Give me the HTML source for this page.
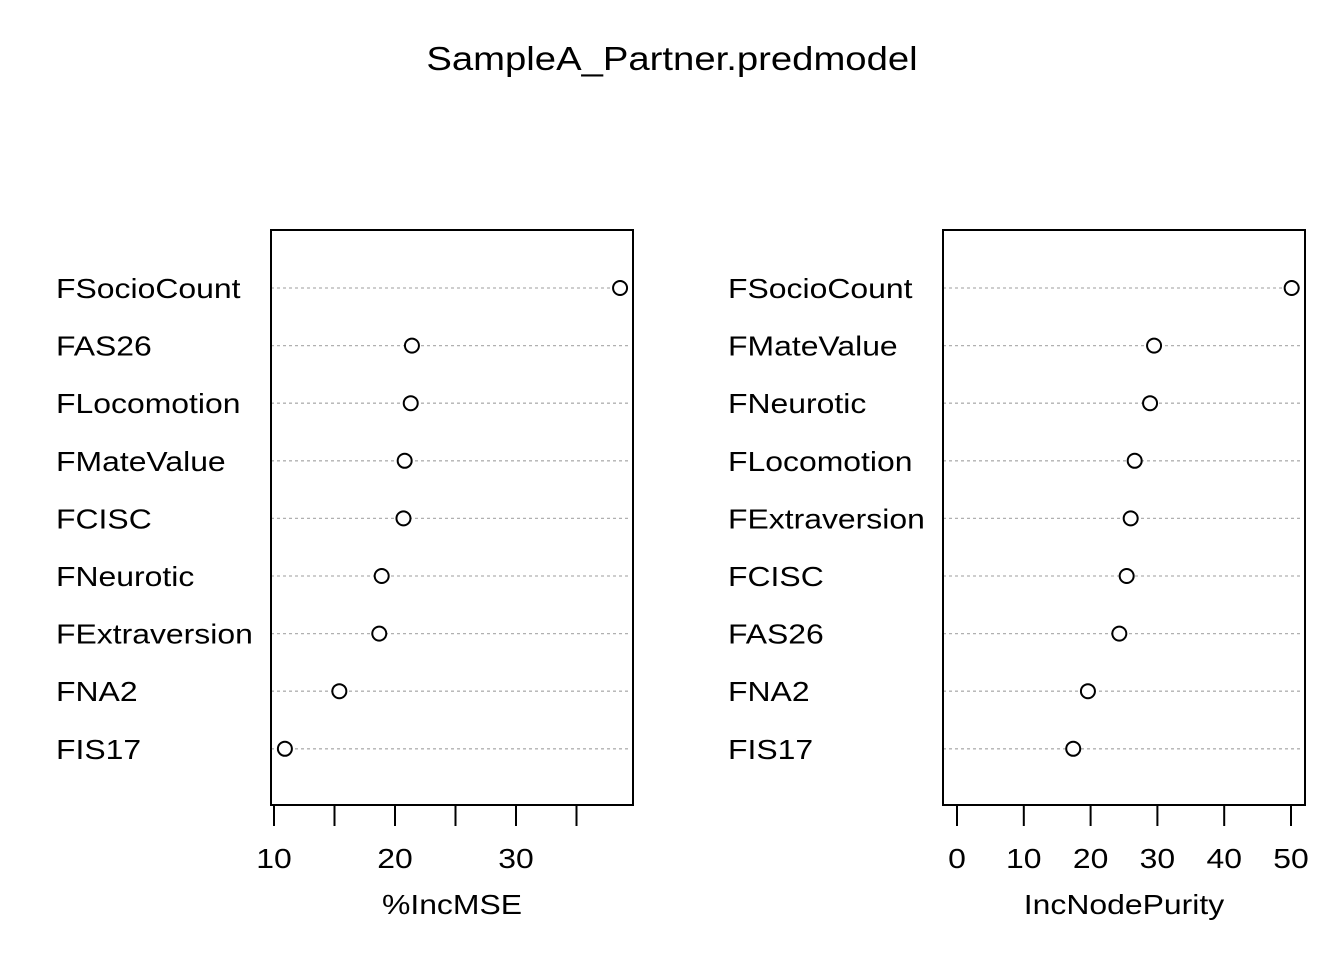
<!DOCTYPE html>
<html><head><meta charset="utf-8"><style>
html,body{margin:0;padding:0;background:#fff;}
svg{display:block;font-family:"Liberation Sans",Arial,sans-serif;}
</style></head><body>
<svg id="chart" width="1344" height="960" xmlns="http://www.w3.org/2000/svg">
<text transform="translate(672,70) scale(1.16,1)" font-size="33" text-anchor="middle">SampleA_Partner.predmodel</text>
</svg>
<script>
const leftLabels = ["FSocioCount","FAS26","FLocomotion","FMateValue","FCISC","FNeurotic","FExtraversion","FNA2","FIS17"];
const leftValues = [38.6,21.4,21.3,20.8,20.7,18.9,18.7,15.4,10.9];
const leftTicks = [10,15,20,25,30,35];
const leftTickLabels = ["10","","20","","30",""];
const rightLabels = ["FSocioCount","FMateValue","FNeurotic","FLocomotion","FExtraversion","FCISC","FAS26","FNA2","FIS17"];
const rightValues = [50.1,29.5,28.9,26.6,26.0,25.4,24.3,19.6,17.4];
const rightTicks = [0,10,20,30,40,50];
const rightTickLabels = ["0","10","20","30","40","50"];

const svg = document.getElementById('chart');
const NS = 'http://www.w3.org/2000/svg';
const SX = 1.14;
function mk(tag, attrs, parent){const e=document.createElementNS(NS,tag);for(const k in attrs)e.setAttribute(k,attrs[k]);(parent||svg).appendChild(e);return e;}

function panel(name, box, labelX, labels, values, ticks, tickLabels, v0, x0, v1, x1, title){
  const g = mk('g',{});
  
  
  const xs = v => x0 + (v - v0) * (x1 - x0) / (v1 - v0);
  const ys = i => 288 + i * 57.6;
  labels.forEach((lab,i)=>{
    const ln = mk('line',{x1:box.x1,x2:box.x2-5,y1:ys(i),y2:ys(i),stroke:'#b0b0b0','stroke-width':1.3,'stroke-dasharray':'3,3'},g);
    
    
    const t = mk('text',{transform:`translate(${labelX},${ys(i)+10}) scale(${SX},1)`,'font-size':28},g);
    t.textContent = lab;
    
    
    const c = mk('circle',{cx:xs(values[i]),cy:ys(i),r:7,fill:'#fff',stroke:'#000','stroke-width':2},g);
    
    
  });
  const r = mk('rect',{x:box.x1,y:230,width:box.x2-box.x1,height:575,fill:'none',stroke:'#000','stroke-width':2},g);
  
  
  ticks.forEach((v,i)=>{
    const tl = mk('line',{x1:xs(v),x2:xs(v),y1:805,y2:826,stroke:'#000','stroke-width':2},g);
    
    
    if(tickLabels[i]){
      const tt = mk('text',{transform:`translate(${xs(v)},868) scale(${SX},1)`,'font-size':28,'text-anchor':'middle'},g);
      tt.textContent = tickLabels[i];
      
      
    }
  });
  const at = mk('text',{transform:`translate(${(box.x1+box.x2)/2},914) scale(${SX},1)`,'font-size':28,'text-anchor':'middle'},g);
  at.textContent = title;
  
  
}
panel('incmse',{x1:271,x2:633},56,leftLabels,leftValues,leftTicks,leftTickLabels,10,274,30,516,'%IncMSE');
panel('incnodepurity',{x1:943,x2:1305},728,rightLabels,rightValues,rightTicks,rightTickLabels,0,957,50,1291,'IncNodePurity');
</script>
</body></html>
